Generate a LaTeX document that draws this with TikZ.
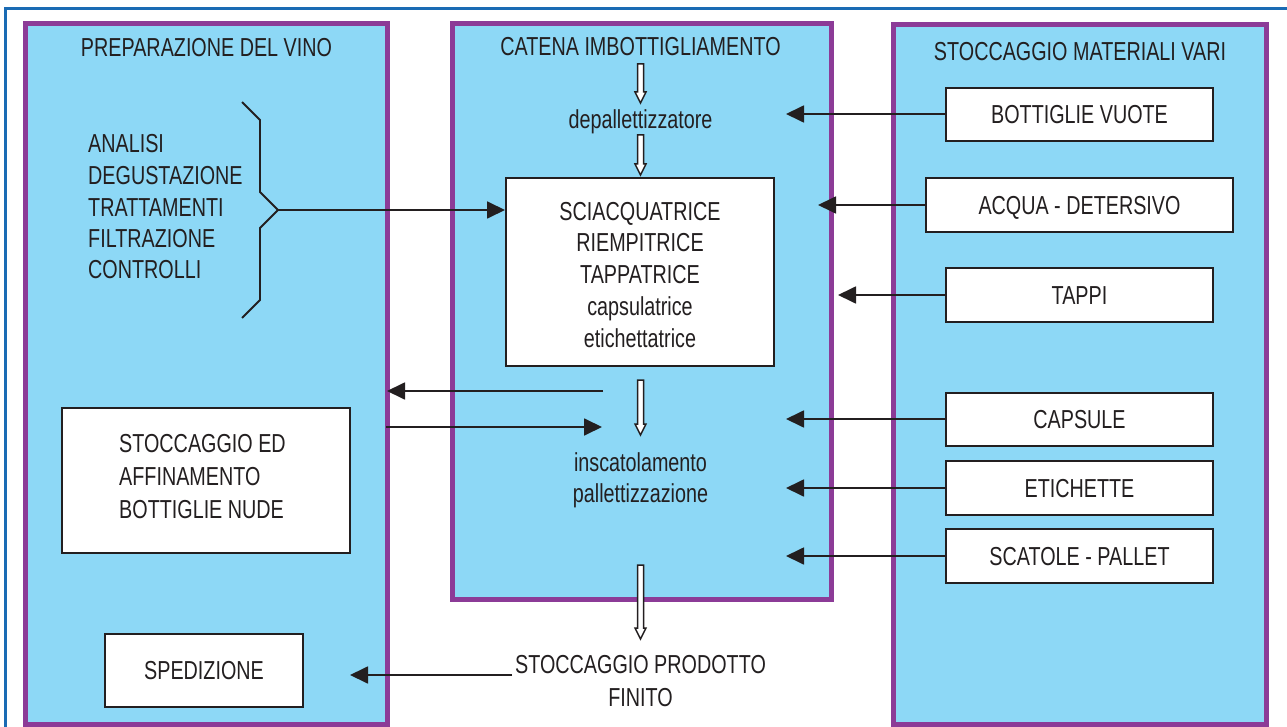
\documentclass[tikz,border=0pt]{standalone}
\usepackage{fontspec}
\setmainfont[FakeStretch=0.76]{Liberation Sans}
\usetikzlibrary{arrows.meta,calc}
\definecolor{panelblue}{HTML}{8DD8F6}
\definecolor{panelpurple}{HTML}{8C3B97}
\definecolor{frameblue}{HTML}{1A6BB4}
\definecolor{ink}{HTML}{231F20}
\newcommand\hollowarrow[2]{\draw[harr] ($(#1)+(-3,0)$) -- ($(#2)+(-3,-11)$) -- ($(#2)+(-5.5,-11)$) -- (#2) -- ($(#2)+(5.5,-11)$) -- ($(#2)+(3,-11)$) -- ($(#1)+(3,0)$) -- cycle;}
\begin{document}
\begin{tikzpicture}[x=1pt,y=-1pt,
  panel/.style={draw=panelpurple, line width=5pt, fill=panelblue},
  txt/.style={text=ink, font=\fontsize{26}{31.6}\selectfont, inner sep=0pt},
  box/.style={txt, draw=ink, line width=2pt, fill=white, inner sep=0pt, text height=18.2pt, text depth=0pt},
  arr/.style={draw=ink, line width=1.8pt, -{Triangle[length=18pt,width=17pt]}},
  harr/.style={draw=ink, line width=1.5pt, fill=white, line join=miter},
]
\useasboundingbox (0,0) rectangle (1287,727);
\clip (0,0) rectangle (1287,727);
\fill[white] (0,0) rectangle (1287,727);
\draw[frameblue, line width=3pt] (5,9) rectangle (1300,760);

% panels
\draw[panel] (25.5,23.5) rectangle (387.5,724.5);
\draw[panel] (452,23.5) rectangle (831,599);
\draw[panel] (893,25) rectangle (1266,724.5);

% headings
\node[txt, anchor=base] (h1) at (206.5,57) {PREPARAZIONE DEL VINO};
\node[txt, anchor=base] (h2) at (640.5,56) {CATENA IMBOTTIGLIAMENTO};
\node[txt, anchor=base] (h3) at (1080,61) {STOCCAGGIO MATERIALI VARI};

% left panel (base anchor = baseline of the last line)
\node[txt, anchor=base west, align=left, font=\fontsize{26}{31.5}\selectfont] (list) at (88,279)
  {ANALISI\\DEGUSTAZIONE\\TRATTAMENTI\\FILTRAZIONE\\CONTROLLI};
\draw[ink, line width=1.8pt, line join=miter] (242,102) -- (260,120) -- (260,192) -- (278,210) -- (260,228) -- (260,300) -- (242,318);
\coordinate (brtip) at (278,210);

\node[box, minimum width=288, minimum height=145] (sto) at (206,480.5) {};
\node[txt, anchor=base west, align=left, font=\fontsize{26}{33}\selectfont] (stotxt) at (119,518)
  {STOCCAGGIO ED\\AFFINAMENTO\\BOTTIGLIE NUDE};

\node[box, minimum width=198, minimum height=73] (spe) at (204,670.5) {SPEDIZIONE};

% central panel
\node[box, minimum width=268, minimum height=188] (mach) at (640,272) {};
\node[txt, anchor=base, align=center, font=\fontsize{26}{31.7}\selectfont] (machtxt) at (640,347)
  {SCIACQUATRICE\\RIEMPITRICE\\TAPPATRICE\\capsulatrice\\etichettatrice};
\node[txt, anchor=base] (dep) at (640.5,129) {depallettizzatore};
\node[txt, anchor=base, align=center, font=\fontsize{26}{31}\selectfont] (insc) at (640.5,502)
  {inscatolamento\\pallettizzazione};
\node[txt, anchor=base, align=center, font=\fontsize{26}{33}\selectfont] (prod) at (640.5,706)
  {STOCCAGGIO PRODOTTO\\FINITO};

% hollow arrows
\coordinate (ha1) at (640.5,64);  \coordinate (hb1) at (640.5,103);
\coordinate (ha2) at (640.5,135); \coordinate (hb2) at (640.5,175);
\coordinate (ha3) at (640.5,380); \coordinate (hb3) at (640.5,435);
\coordinate (ha4) at (640.5,565); \coordinate (hb4) at (640.5,639);
\hollowarrow{ha1}{hb1}
\hollowarrow{ha2}{hb2}
\hollowarrow{ha3}{hb3}
\hollowarrow{ha4}{hb4}

% right panel boxes
\node[box, minimum width=267, minimum height=53] (bv) at (1079.5,114.5) {BOTTIGLIE VUOTE};
\node[box, minimum width=307, minimum height=54] (acq) at (1079.5,205) {ACQUA - DETERSIVO};
\node[box, minimum width=267, minimum height=54] (tap) at (1079.5,295) {TAPPI};
\node[box, minimum width=267, minimum height=53] (cap) at (1079.5,419.5) {CAPSULE};
\node[box, minimum width=267, minimum height=54] (eti) at (1079.5,488) {ETICHETTE};
\node[box, minimum width=267, minimum height=54] (sca) at (1079.5,556) {SCATOLE - PALLET};

% arrows
\coordinate (e1) at (786,114);
\coordinate (e2) at (818,205);
\coordinate (e3) at (838,295);
\coordinate (e4) at (786,419);
\coordinate (e5) at (786,488);
\coordinate (e6) at (786,556);
\draw[arr] (bv.west |- e1) -- (e1);
\draw[arr] (acq.west) -- (e2);
\draw[arr] (tap.west) -- (e3);
\draw[arr] (cap.west |- e4) -- (e4);
\draw[arr] (eti.west) -- (e5);
\draw[arr] (sca.west) -- (e6);

\draw[arr] (brtip) -- (mach.west |- brtip);

\coordinate (a1s) at (603,391); \coordinate (a1e) at (387,391);
\coordinate (a2s) at (386,427); \coordinate (a2e) at (602,427);
\draw[arr] (a1s) -- (a1e);
\draw[arr] (a2s) -- (a2e);

\coordinate (ps) at (512,675); \coordinate (pe) at (350,675);
\draw[arr] (ps) -- (pe);
\end{tikzpicture}
\end{document}
